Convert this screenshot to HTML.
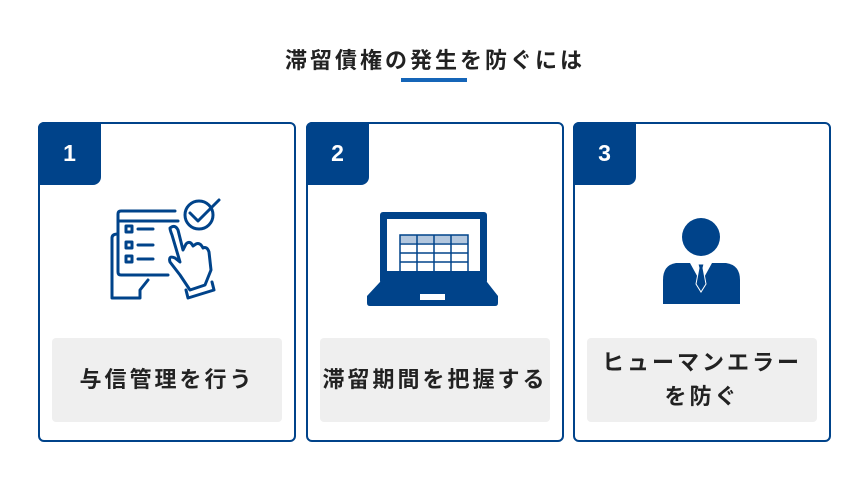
<!DOCTYPE html>
<html><head><meta charset="utf-8"><style>
body{margin:0;width:867px;height:495px;background:#fff;position:relative;font-family:"Liberation Sans","Noto Sans CJK JP",sans-serif;overflow:hidden}
.t{position:absolute;left:0;width:867px;top:43px;text-align:center;font-size:22px;font-weight:bold;color:#222;letter-spacing:3px;text-indent:3px}
.u{position:absolute;left:401px;top:78px;width:66px;height:4px;background:#1565b8}
.c{position:absolute;top:122px;width:254px;height:316px;border:2px solid #00438a;border-radius:6px;box-sizing:content-box}
.b{position:absolute;left:-2px;top:-2px;width:63px;height:63px;background:#00438a;border-radius:6px 0 8px 0;color:#fff;font-size:23px;font-weight:bold;text-align:center;line-height:63px}
.g{position:absolute;left:12px;top:214px;width:230px;height:84px;background:#efefef;border-radius:4px;display:flex;align-items:center;justify-content:center;text-align:center;font-size:22px;font-weight:bold;color:#222;line-height:34px;letter-spacing:3px}
svg{position:absolute;left:0;top:0}
</style></head><body>
<div class="t">滞留債権の発生を防ぐには</div>
<div class="u"></div>
<div class="c" style="left:38px"><div class="b">1</div><div class="g">与信管理を行う</div></div>
<div class="c" style="left:306px"><div class="b">2</div><div class="g">滞留期間を把握する</div></div>
<div class="c" style="left:573px"><div class="b">3</div><div class="g">ヒューマンエラー<br>を防ぐ</div></div>
<svg width="867" height="495">
<g fill="none" stroke="#00438a" stroke-width="3" stroke-linejoin="round" stroke-linecap="round">
<path d="M175 211 H121 Q118 211 118 214 V272 Q118 275 121 275 H168"/>
<path d="M118 221 H178"/>
<path d="M112 238 V298 H140 V290 L148 280"/>
<path d="M112 238 Q112 234 118 234"/>
<rect x="126" y="226" width="6" height="6"/><rect x="126" y="242" width="6" height="6"/><rect x="126" y="256" width="6" height="6"/>
<path d="M138 229 H153 M138 245 H153 M138 259 H153"/>
<circle cx="199" cy="215" r="14"/>
<path d="M190 213 L198 221 L219 200"/>
<path d="M170 228 Q175 224 178 230 L183 250 L186 244 Q190 240 193 246 L196 244 Q200 242 203 248 Q207 246 209 252 L211 270 L205 285 L190 290 L180 275 L170 262 Q168 255 175 258 L180 262 L172 235 Q170 230 170 228 Z"/>
<path d="M186 290 L188 298 L214 290 L212 282"/>
</g>
<rect x="380" y="212" width="107" height="72" rx="3" fill="#00438a"/>
<rect x="387" y="219" width="93" height="52" fill="#fff"/>
<path d="M380 282 H487 L498 296 V303 Q498 306 495 306 H370 Q367 306 367 303 V296 Z" fill="#00438a"/>
<rect x="420" y="294" width="25" height="6" fill="#fff"/>
<rect x="400" y="235" width="68" height="8" fill="#b3c7de"/>
<g stroke="#00438a" stroke-width="1.5" fill="none">
<rect x="400" y="235" width="68" height="37"/>
<path d="M400 244 H468 M400 253 H468 M400 262 H468 M417 235 V272 M434 235 V272 M451 235 V272"/>
</g>
<circle cx="701" cy="237" r="19" fill="#00438a"/>
<path d="M676 263 H726 Q740 265 740 280 V304 H663 V280 Q663 265 676 263 Z" fill="#00438a"/>
<path d="M690 263 L701 283 L712 263 Z" fill="#fff"/>
<path d="M698 264 H704 L703 268 L706 284 L701 292 L696 284 L699 268 Z" fill="#00438a" stroke="#fff" stroke-width="1"/>
</svg>
</body></html>
